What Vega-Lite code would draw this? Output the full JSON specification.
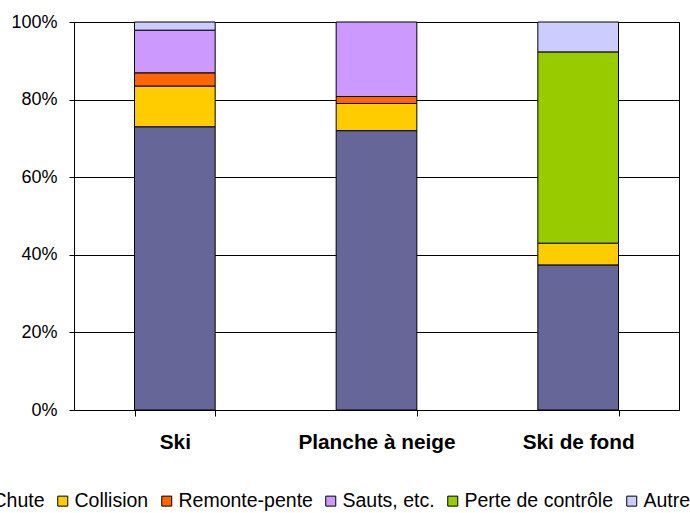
{
  "$schema": "https://vega.github.io/schema/vega-lite/v6.json",
  "width": 605,
  "height": 388,
  "autosize": {"type": "none"},
  "padding": {"left": 74, "top": 22, "right": 11, "bottom": 103},
  "background": "white",
  "config": {"view": {"stroke": "black", "strokeWidth": 1}, "font": "Liberation Sans"},
  "data": {
    "values": [
      {"activite": "Ski", "cause": "Chute", "rang": 1, "pct": 73.0},
      {"activite": "Ski", "cause": "Collision", "rang": 2, "pct": 10.5},
      {"activite": "Ski", "cause": "Remonte-pente", "rang": 3, "pct": 3.4},
      {"activite": "Ski", "cause": "Sauts, etc.", "rang": 4, "pct": 11.0},
      {"activite": "Ski", "cause": "Autre", "rang": 6, "pct": 2.1},
      {"activite": "Planche à neige", "cause": "Chute", "rang": 1, "pct": 72.0},
      {"activite": "Planche à neige", "cause": "Collision", "rang": 2, "pct": 7.0},
      {"activite": "Planche à neige", "cause": "Remonte-pente", "rang": 3, "pct": 1.8},
      {"activite": "Planche à neige", "cause": "Sauts, etc.", "rang": 4, "pct": 19.2},
      {"activite": "Ski de fond", "cause": "Chute", "rang": 1, "pct": 37.4},
      {"activite": "Ski de fond", "cause": "Collision", "rang": 2, "pct": 5.6},
      {"activite": "Ski de fond", "cause": "Perte de contrôle", "rang": 5, "pct": 49.3},
      {"activite": "Ski de fond", "cause": "Autre", "rang": 6, "pct": 7.7}
    ]
  },
  "mark": {"type": "bar", "stroke": "black", "strokeWidth": 1},
  "encoding": {
    "x": {
      "field": "activite",
      "type": "nominal",
      "sort": ["Ski", "Planche à neige", "Ski de fond"],
      "scale": {"paddingInner": 0.6, "paddingOuter": 0.3},
      "axis": {
        "title": null,
        "labelAngle": 0,
        "labelFont": "Liberation Sans",
        "labelFontWeight": "bold",
        "labelFontSize": 20.8,
        "labelColor": "black",
        "domainColor": "black",
        "tickColor": "black",
        "tickSize": 6,
        "tickBand": "extent",
        "labelPadding": 16
      }
    },
    "y": {
      "field": "pct",
      "type": "quantitative",
      "stack": "normalize",
      "scale": {"domain": [0, 1]},
      "axis": {
        "title": null,
        "format": ".0%",
        "values": [0, 0.2, 0.4, 0.6, 0.8, 1],
        "grid": true,
        "gridColor": "black",
        "domainColor": "black",
        "tickColor": "black",
        "tickSize": 5,
        "labelFont": "Liberation Sans",
        "labelFontSize": 18,
        "labelColor": "black",
        "labelPadding": 12
      }
    },
    "order": {"field": "rang", "type": "quantitative", "sort": "ascending"},
    "color": {
      "field": "cause",
      "type": "nominal",
      "sort": ["Chute", "Collision", "Remonte-pente", "Sauts, etc.", "Perte de contrôle", "Autre"],
      "scale": {
        "domain": ["Chute", "Collision", "Remonte-pente", "Sauts, etc.", "Perte de contrôle", "Autre"],
        "range": ["#666699", "#FFCC00", "#FF6600", "#CC99FF", "#99CC00", "#CCCCFF"]
      },
      "legend": {
        "title": null,
        "orient": "none",
        "legendX": -103,
        "legendY": 469,
        "direction": "horizontal",
        "symbolType": "square",
        "symbolSize": 100,
        "symbolStrokeColor": "black",
        "symbolStrokeWidth": 1,
        "symbolOpacity": 1,
        "labelFont": "Liberation Sans",
        "labelFontSize": 19.5,
        "labelColor": "black",
        "labelOffset": 2,
        "columnPadding": 8,
        "padding": 0,
        "labelLimit": 300
      }
    }
  }
}
